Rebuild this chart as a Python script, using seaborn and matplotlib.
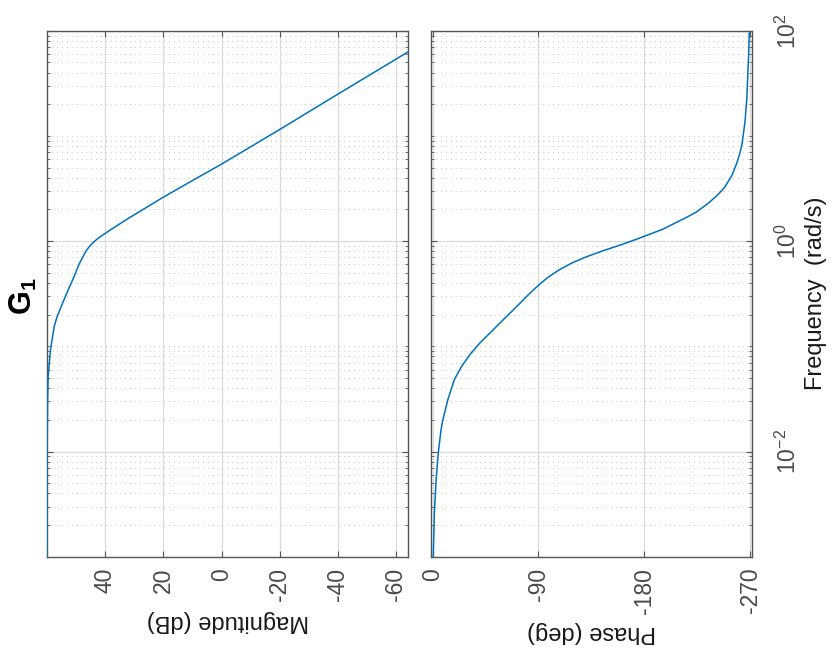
import numpy as np
import matplotlib
matplotlib.use("Agg")
import matplotlib.pyplot as plt
import seaborn as sns
from matplotlib.ticker import FixedLocator, NullFormatter

# Werte (Frequenz in rad/s)
freq_mag = [0.001, 0.003, 0.01, 0.03, 0.052, 0.093, 0.155, 0.192, 0.297, 0.459,
            0.60, 0.711, 0.804, 0.917, 1.01, 1.10, 1.27, 1.58, 2.62, 4.15, 5.35,
            11.5, 24.6, 63.1, 100.0]
mag_db = [60.1, 60.1, 60.05, 59.9, 59.7, 58.9, 57.6, 56.6, 53.8, 50.8,
          49.1, 47.7, 46.7, 45.1, 43.5, 41.8, 38.4, 33.1, 20.0, 7.3, 0.2,
          -20.0, -39.7, -64.3, -76.0]

freq_ph = [0.001, 0.00265, 0.00548, 0.00977, 0.0163, 0.0203, 0.0313, 0.0484,
           0.0647, 0.0834, 0.1076, 0.140, 0.179, 0.248, 0.310, 0.384, 0.452, 0.532,
           0.620, 0.711, 0.810, 0.916, 1.00, 1.10, 1.30, 1.50, 1.66, 1.88, 2.29, 2.75,
           3.26, 4.20, 5.43, 6.80, 8.4, 13.96, 23.2, 59.7, 95.5]
phase_deg = [-0.5, -1.5, -3.0, -4.8, -7.2, -8.8, -13.0, -18.5,
             -24.7, -31.7, -40.2, -50.5, -60.1, -73.0, -81.5, -90.4, -98.0, -107.5,
             -118.5, -131.0, -145.0, -159.4, -169.0, -179.0, -196.0, -207.0, -215.0, -224.0,
             -234.5, -242.5, -248.5, -254.5, -258.5, -261.3, -263.2, -265.8, -267.3, -268.8, -269.3]

mag_ticks = [40, 20, 0, -20, -40, -60]
phase_ticks = [0, -90, -180, -270]
freq_ticks = [1e-2, 1e0, 1e2]
freq_ticklabels = ["$10^{-2}$", "$10^{0}$", "$10^{2}$"]

sns.set_theme(style="white")
plt.rcParams['font.family'] = ['Liberation Sans', 'DejaVu Sans']
plt.rcParams['mathtext.default'] = 'regular'

W, H = 833, 656
fig = plt.figure(figsize=(W / 100, H / 100), dpi=100)
fig.patch.set_facecolor("white")

top, bottom = 30.7, 556.7
ax_mag = fig.add_axes([47 / W, 1 - bottom / H, (408 - 47) / W, (bottom - top) / H])
ax_ph = fig.add_axes([431 / W, 1 - bottom / H, (751.7 - 431) / W, (bottom - top) / H])

line_col = "#0072BD"
edge_col = "#555555"
tick_txt = "#4a4a4a"

sns.lineplot(x=mag_db, y=freq_mag, orient="y", estimator=None, color=line_col, lw=1.1,
             ax=ax_mag, zorder=3)
sns.lineplot(x=phase_deg, y=freq_ph, orient="y", estimator=None, color=line_col, lw=1.1,
             ax=ax_ph, zorder=3)

minor_pos = [k * 10.0 ** e for e in range(-3, 2) for k in range(1, 10)]
minor_pos = [m for m in minor_pos if not any(np.isclose(m, t) for t in freq_ticks)]

for ax in (ax_mag, ax_ph):
    ax.set_yscale("log")
    ax.set_ylim(1e-3, 1e2)
    ax.yaxis.set_major_locator(FixedLocator(freq_ticks))
    ax.yaxis.set_minor_locator(FixedLocator(minor_pos))
    ax.yaxis.set_minor_formatter(NullFormatter())
    ax.grid(True, which="major", color="#dadada", lw=0.9, ls="-")
    ax.grid(True, which="minor", axis="y", color="#c4c4c4", lw=0.7, ls=(0, (1, 4)))
    ax.set_axisbelow(True)
    for s in ax.spines.values():
        s.set_color(edge_col)
        s.set_linewidth(1.0)
    ax.tick_params(which="both", direction="in", colors=edge_col, labelcolor=tick_txt,
                   top=True, bottom=True, left=True, right=True, labelsize=16.5)
    ax.tick_params(which="major", length=4.5, width=0.8)
    ax.tick_params(which="minor", length=2.2, width=0.6)
    ax.tick_params(axis="x", pad=8, labelrotation=90)
    ax.set_ylabel("")

# Betrag
ax_mag.set_xlim(60.1, -64.2)
ax_mag.set_xticks(mag_ticks)
ax_mag.set_xticklabels([str(t) for t in mag_ticks])
ax_mag.tick_params(axis="y", labelleft=False, labelright=False)
ax_mag.set_xlabel("Magnitude (dB)", rotation=180, fontsize=17, color="#1a1a1a", va="center")
ax_mag.xaxis.set_label_coords(0.5, (bottom - 621) / (bottom - top))

# Phase
ax_ph.set_xlim(1.4, -271.4)
ax_ph.set_xticks(phase_ticks)
ax_ph.set_xticklabels([str(t) for t in phase_ticks])
ax_ph.set_yticklabels(freq_ticklabels)
ax_ph.tick_params(axis="y", labelleft=False, labelright=True, pad=17)
for lab in ax_ph.get_yticklabels():
    lab.set_rotation(90)
    lab.set_va("center")
ax_ph.set_xlabel("Phase (deg)", rotation=180, fontsize=17, color="#1a1a1a", va="center")
ax_ph.xaxis.set_label_coords(0.5, (bottom - 632) / (bottom - top))
ax_ph.yaxis.set_label_position("right")
ax_ph.set_ylabel("Frequency  (rad/s)", rotation=90, fontsize=17, color="#1a1a1a",
                 va="center", ha="center")
ax_ph.yaxis.set_label_coords((816 - 431) / (751.7 - 431), 0.5)

# Titel links (gedreht)
fig.text(23 / W, 1 - 296 / H, "G$_1$", rotation=90, fontsize=22, fontweight="bold",
         ha="center", va="center", color="black")

fig.savefig("out.png", dpi=100, facecolor="white")
